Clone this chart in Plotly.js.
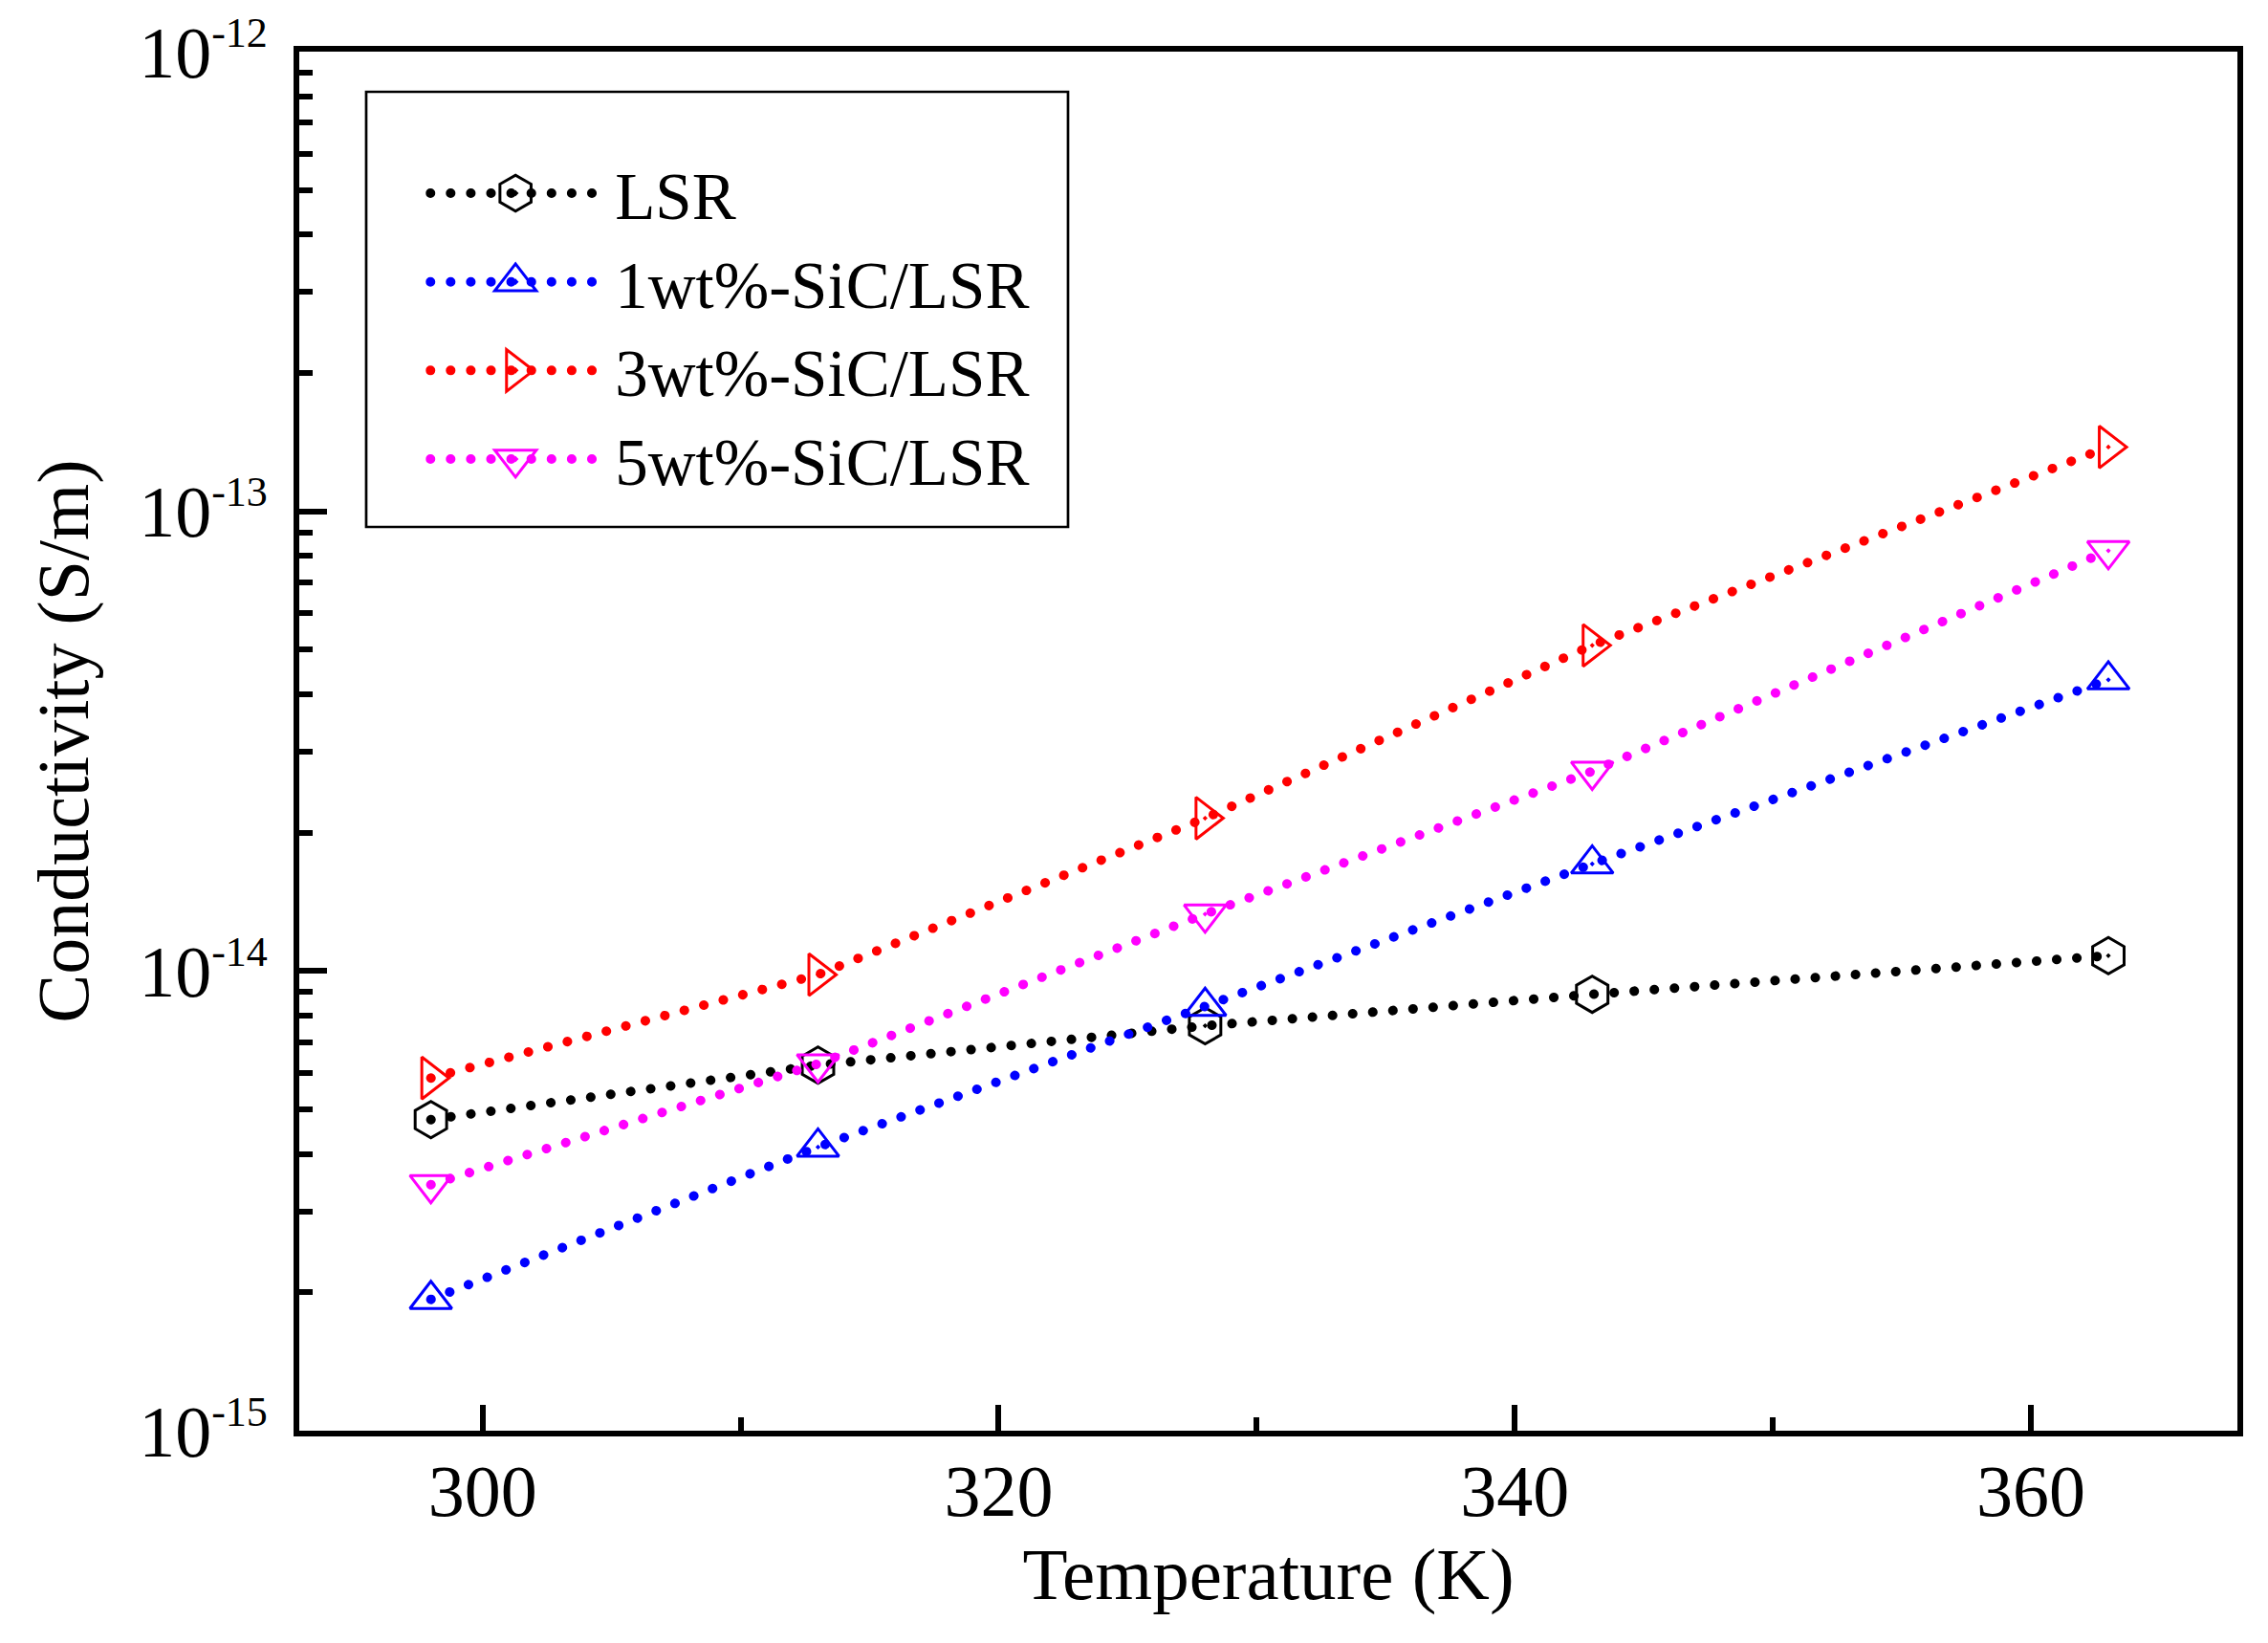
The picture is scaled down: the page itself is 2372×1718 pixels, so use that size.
<!DOCTYPE html>
<html>
<head>
<meta charset="utf-8">
<script src="https://cdn.plot.ly/plotly-3.0.1.min.js"></script>
<style>
  html, body { margin: 0; padding: 0; background: #fff; }
  #chart { width: 2372px; height: 1718px; }
  /* Origin-style round dots for the dotted connecting lines */
  path.js-line { stroke-linecap: round !important; }
  /* plotly caps legend marker size at 16px; blow them up to match the plot markers */
  g.legendpoints path.scatterpts {
    transform: translate(94px, 0px) scale(2.35);
    vector-effect: non-scaling-stroke;
  }
</style>
</head>
<body>
<div id="chart"></div>
<script>
// Temperature (K) and conductivity (S/m)
const temps = [298, 313, 328, 343, 363];
const lsr = [4.75e-15, 6.24e-15, 7.60e-15, 8.90e-15, 1.08e-14];
const sic1 = [1.93e-15, 4.14e-15, 8.38e-15, 1.71e-14, 4.30e-14];
const sic3 = [5.85e-15, 9.82e-15, 2.15e-14, 5.11e-14, 1.38e-13];
const sic5 = [3.43e-15, 6.28e-15, 1.33e-14, 2.72e-14, 8.21e-14];

const names = ["LSR", "1wt%-SiC/LSR", "3wt%-SiC/LSR", "5wt%-SiC/LSR"];
const colors = ["#000000", "#0000FF", "#FF0000", "#FF00FF"];
const symbols = ["hexagon-open-dot", "triangle-up-open-dot", "triangle-right-open-dot", "triangle-down-open-dot"];

const yTickVals = [1e-15, 1e-14, 1e-13, 1e-12];
const yExponents = ["-15", "-14", "-13", "-12"];
const yTickText = yExponents.map((e) => `10<sup><span style="font-size:44px">${e}</span></sup>`);

const FONT = "Liberation Serif, Times New Roman, serif";

const traces = [lsr, sic1, sic3, sic5].map((ys, i) => ({
  type: "scatter",
  mode: "lines+markers",
  name: names[i],
  x: temps,
  y: ys,
  line: { color: colors[i], width: 10, dash: "0.1px,21px" },
  marker: { symbol: symbols[i], size: 38, color: colors[i], line: { color: colors[i], width: 3 } },
}));

const layout = {
  width: 2372,
  height: 1718,
  margin: { l: 313, r: 32, t: 54, b: 222 },
  paper_bgcolor: "#fff",
  plot_bgcolor: "#fff",
  font: { family: FONT, size: 76, color: "#000" },
  showlegend: true,
  legend: {
    x: 0.0652,
    y: 0.933,
    xanchor: "left",
    yanchor: "top",
    bgcolor: "rgba(0,0,0,0)",
    borderwidth: 0,
    itemwidth: 188,
    font: { family: FONT, size: 69, color: "#000" },
  },
  // legend frame (Origin draws it with generous padding)
  shapes: [
    {
      type: "rect",
      xref: "paper",
      yref: "paper",
      x0: 0.03453,
      x1: 0.39664,
      y0: 0.65534,
      y1: 0.97087,
      line: { color: "#000", width: 2.7 },
      fillcolor: "#fff",
      layer: "below",
    },
  ],
  xaxis: {
    range: [292.9, 368],
    tick0: 300,
    dtick: 20,
    ticks: "inside",
    ticklen: 27,
    tickwidth: 6,
    tickcolor: "#000",
    ticklabelstandoff: -8,
    minor: { dtick: 10, ticks: "inside", ticklen: 14, tickwidth: 6, tickcolor: "#000" },
    showline: true,
    linewidth: 6,
    linecolor: "#000",
    mirror: true,
    showgrid: false,
    zeroline: false,
    tickfont: { family: FONT, size: 76 },
    title: { text: "Temperature (K)", font: { family: FONT, size: 77 }, standoff: 20 },
  },
  yaxis: {
    type: "log",
    range: [-15, -12],
    tickmode: "array",
    tickvals: yTickVals,
    ticktext: yTickText,
    ticks: "inside",
    ticklen: 29,
    tickwidth: 6,
    tickcolor: "#000",
    ticklabelstandoff: 12,
    minor: { dtick: "D1", ticks: "inside", ticklen: 14, tickwidth: 6, tickcolor: "#000" },
    showline: true,
    linewidth: 6,
    linecolor: "#000",
    mirror: true,
    showgrid: false,
    zeroline: false,
    tickfont: { family: FONT, size: 76 },
    title: { text: "Conductivity (S/m)", font: { family: FONT, size: 76 }, standoff: 30 },
  },
};

Plotly.newPlot("chart", traces, layout, { staticPlot: true, displayModeBar: false });
</script>
</body>
</html>
